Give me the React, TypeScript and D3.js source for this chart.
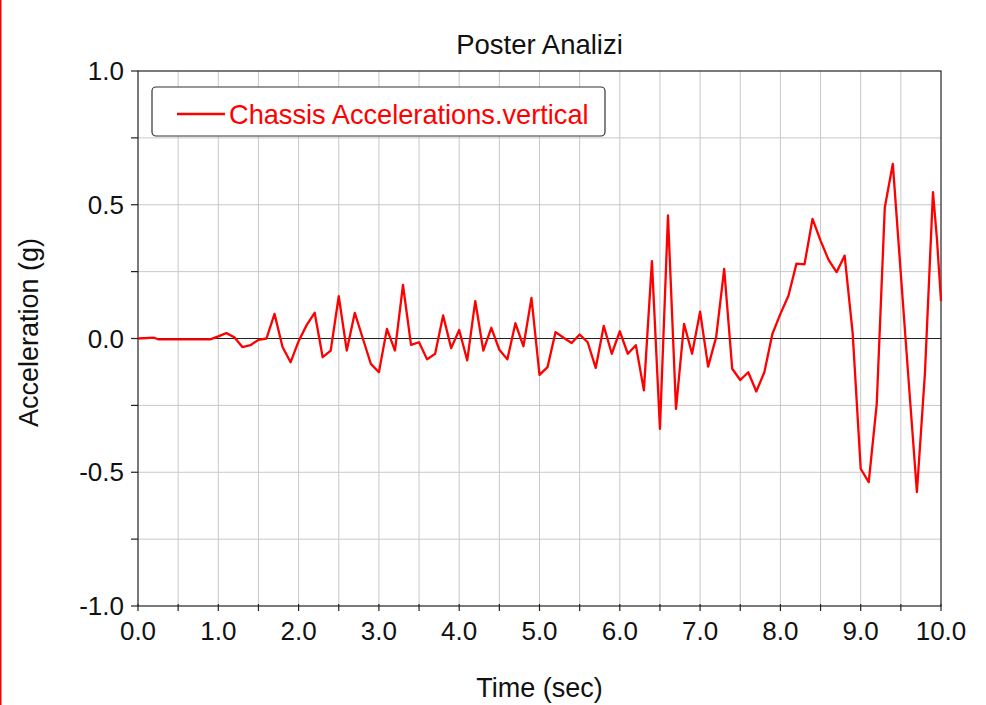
import React, { useEffect, useRef } from 'react';
import * as d3 from 'd3';

const times = [
  0, 0.2, 0.25, 0.9, 1.0, 1.1, 1.2, 1.3, 1.4, 1.5, 1.6, 1.7, 1.8, 1.9, 2.0, 2.1, 2.2, 2.3, 2.4, 2.5,
  2.6, 2.7, 2.8, 2.9, 3.0, 3.1, 3.2, 3.3, 3.4, 3.5, 3.6, 3.7, 3.8, 3.9, 4.0, 4.1, 4.2, 4.3, 4.4, 4.5,
  4.6, 4.7, 4.8, 4.9, 5.0, 5.1, 5.2, 5.3, 5.4, 5.5, 5.6, 5.7, 5.8, 5.9, 6.0, 6.1, 6.2, 6.3, 6.4, 6.5,
  6.6, 6.7, 6.8, 6.9, 7.0, 7.1, 7.2, 7.3, 7.4, 7.5, 7.6, 7.7, 7.8, 7.9, 8.0, 8.1, 8.2, 8.3, 8.4, 8.5,
  8.6, 8.7, 8.8, 8.9, 9.0, 9.1, 9.2, 9.3, 9.4, 9.5, 9.6, 9.7, 9.8, 9.9, 9.95, 10.0,
];

const verticalAccel = [
  0, 0.003, -0.003, -0.003, 0.008, 0.02, 0.005, -0.032, -0.025, -0.005, 0.0, 0.092, -0.032, -0.089, -0.01, 0.05, 0.096, -0.07, -0.045, 0.158,
  -0.045, 0.096, 0.0, -0.095, -0.126, 0.036, -0.045, 0.2, -0.024, -0.014, -0.078, -0.057, 0.086, -0.036, 0.032, -0.082, 0.14, -0.045, 0.04, -0.042,
  -0.078, 0.057, -0.029, 0.152, -0.136, -0.107, 0.024, 0.003, -0.017, 0.015, -0.014, -0.11, 0.047, -0.057, 0.027, -0.057, -0.025, -0.194, 0.289, -0.338,
  0.46, -0.263, 0.055, -0.057, 0.1, -0.105, 0.005, 0.26, -0.113, -0.155, -0.126, -0.198, -0.126, 0.017, 0.092, 0.16, 0.28, 0.277, 0.447, 0.366,
  0.294, 0.248, 0.31, 0.02, -0.487, -0.537, -0.244, 0.49, 0.653, 0.24, -0.17, -0.574, -0.13, 0.547, 0.37, 0.14,
];

const xTickLabels = ['0.0', '1.0', '2.0', '3.0', '4.0', '5.0', '6.0', '7.0', '8.0', '9.0', '10.0'];
const yTickLabels = ['-1.0', '-0.5', '0.0', '0.5', '1.0'];

const FONT = '"Liberation Sans", Arial, Helvetica, sans-serif';

const App: React.FC = () => {
  const ref = useRef<SVGSVGElement | null>(null);

  useEffect(() => {
    if (!ref.current) return;
    const svg = d3.select(ref.current);
    svg.selectAll('*').remove();

    const W = 986;
    const H = 705;
    const left = 138, right = 941, top = 71, bottom = 606;

    const x = d3.scaleLinear().domain([0, 10]).range([left, right]);
    const y = d3.scaleLinear().domain([-1, 1]).range([bottom, top]);

    svg.append('rect').attr('width', W).attr('height', H).attr('fill', '#fff');
    // red edge on the left of the window
    svg.append('rect').attr('x', 0).attr('y', 0).attr('width', 1.5).attr('height', H).attr('fill', '#ff0000');

    const xGrid = d3.range(1, 20).map(i => i * 0.5);
    const yGrid = d3.range(-3, 4).map(i => i * 0.25);

    const g = svg.append('g');

    g.selectAll('.vgrid')
      .data(xGrid)
      .enter()
      .append('line')
      .attr('x1', d => x(d)).attr('x2', d => x(d))
      .attr('y1', top).attr('y2', bottom)
      .attr('stroke', '#c8c8c8').attr('stroke-width', 1);

    g.selectAll('.hgrid')
      .data(yGrid.filter(d => d !== 0))
      .enter()
      .append('line')
      .attr('x1', left).attr('x2', right)
      .attr('y1', d => y(d)).attr('y2', d => y(d))
      .attr('stroke', '#c8c8c8').attr('stroke-width', 1);

    // zero line
    g.append('line')
      .attr('x1', left).attr('x2', right)
      .attr('y1', y(0)).attr('y2', y(0))
      .attr('stroke', '#222').attr('stroke-width', 1);

    // frame
    g.append('rect')
      .attr('x', left).attr('y', top)
      .attr('width', right - left).attr('height', bottom - top)
      .attr('fill', 'none').attr('stroke', '#222').attr('stroke-width', 1.2);

    // ticks
    g.selectAll('.xtick')
      .data(d3.range(0, 21).map(i => i * 0.5))
      .enter()
      .append('line')
      .attr('x1', d => x(d)).attr('x2', d => x(d))
      .attr('y1', bottom - 2).attr('y2', bottom + 5)
      .attr('stroke', '#222').attr('stroke-width', 1.2);

    g.selectAll('.ytick')
      .data(d3.range(-4, 5).map(i => i * 0.25))
      .enter()
      .append('line')
      .attr('x1', left - 7).attr('x2', left)
      .attr('y1', d => y(d)).attr('y2', d => y(d))
      .attr('stroke', '#222').attr('stroke-width', 1.2);

    g.selectAll('.xlabel')
      .data(xTickLabels)
      .enter()
      .append('text')
      .attr('x', d => x(+d))
      .attr('y', 640)
      .attr('text-anchor', 'middle')
      .style('font-family', FONT)
      .style('font-size', '26px')
      .style('fill', '#111')
      .text(d => d);

    g.selectAll('.ylabel')
      .data(yTickLabels)
      .enter()
      .append('text')
      .attr('x', 124)
      .attr('y', d => y(+d) + 9)
      .attr('text-anchor', 'end')
      .style('font-family', FONT)
      .style('font-size', '26px')
      .style('fill', '#111')
      .text(d => d);

    // data line
    const line = d3.line<number>()
      .x((_, i) => x(times[i]))
      .y(d => y(d));

    g.append('path')
      .datum(verticalAccel)
      .attr('d', line)
      .attr('fill', 'none')
      .attr('stroke', '#ff0000')
      .attr('stroke-width', 2.3)
      .attr('stroke-linejoin', 'round');

    // titles
    svg.append('text')
      .attr('x', (left + right) / 2).attr('y', 54)
      .attr('text-anchor', 'middle')
      .style('font-family', FONT).style('font-size', '27.5px').style('fill', '#111')
      .text('Poster Analizi');

    svg.append('text')
      .attr('x', (left + right) / 2).attr('y', 697)
      .attr('text-anchor', 'middle')
      .style('font-family', FONT).style('font-size', '27px').style('fill', '#111')
      .text('Time (sec)');

    svg.append('text')
      .attr('transform', `translate(38, ${(top + bottom) / 2 - 6}) rotate(-90)`)
      .attr('text-anchor', 'middle')
      .style('font-family', FONT).style('font-size', '27px').style('fill', '#111')
      .text('Acceleration (g)');

    // legend
    const legend = svg.append('g');
    legend.append('rect')
      .attr('x', 152).attr('y', 87)
      .attr('width', 453).attr('height', 49)
      .attr('rx', 4)
      .attr('fill', '#fff').attr('stroke', '#333').attr('stroke-width', 1.2);
    legend.append('line')
      .attr('x1', 177).attr('x2', 225)
      .attr('y1', 114).attr('y2', 114)
      .attr('stroke', '#ff0000').attr('stroke-width', 2.3);
    legend.append('text')
      .attr('x', 229).attr('y', 124)
      .style('font-family', FONT).style('font-size', '27.2px').style('fill', '#ff0000')
      .text('Chassis Accelerations.vertical');
  }, []);

  return (
    <svg
      ref={ref}
      width={986}
      height={705}
      style={{ position: 'absolute', left: 0, top: 0, display: 'block' }}
    />
  );
};

export default App;
